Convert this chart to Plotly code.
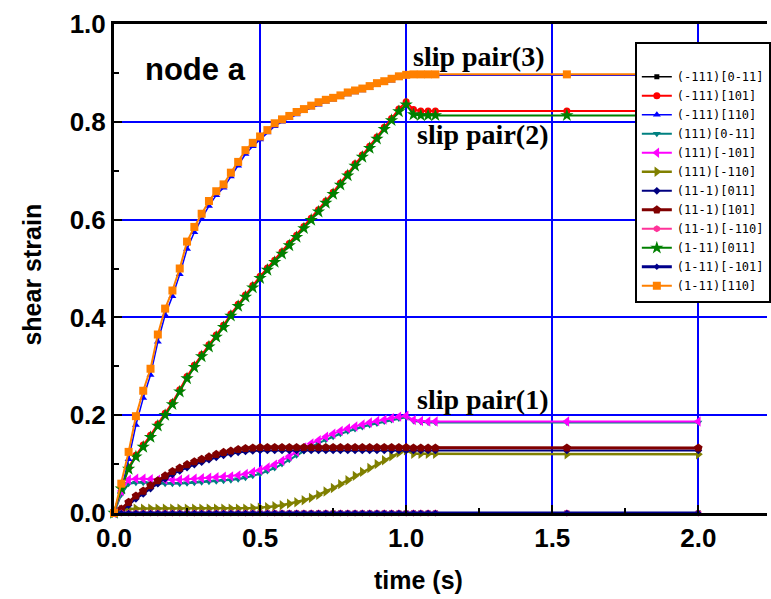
import plotly.graph_objects as go

# Sampling times (s): dense output up to 1.1 s, then two late samples
times = [0.000, 0.025, 0.050, 0.075, 0.100, 0.125, 0.150, 0.175, 0.200, 0.225,
         0.250, 0.275, 0.300, 0.325, 0.350, 0.375, 0.400, 0.425, 0.450, 0.475,
         0.500, 0.525, 0.550, 0.575, 0.600, 0.625, 0.650, 0.675, 0.700, 0.725,
         0.750, 0.775, 0.800, 0.825, 0.850, 0.875, 0.900, 0.925, 0.950, 0.975,
         1.000, 1.025, 1.050, 1.075, 1.100, 1.550, 2.000]

# Shear strain on each slip system
s_m111_0m11 = [0.000, 0.000, 0.000, 0.000, 0.000, 0.000, 0.000, 0.000, 0.000, 0.000,
               0.000, 0.000, 0.000, 0.000, 0.000, 0.000, 0.000, 0.000, 0.000, 0.000,
               0.000, 0.000, 0.000, 0.000, 0.000, 0.000, 0.000, 0.000, 0.000, 0.000,
               0.000, 0.000, 0.000, 0.000, 0.000, 0.000, 0.000, 0.000, 0.000, 0.000,
               0.000, 0.000, 0.000, 0.000, 0.000, 0.000, 0.000]
s_m111_101 = [0.000, 0.052, 0.093, 0.118, 0.139, 0.159, 0.182, 0.204, 0.226, 0.252,
              0.279, 0.302, 0.324, 0.344, 0.364, 0.384, 0.407, 0.427, 0.446, 0.465,
              0.484, 0.501, 0.517, 0.534, 0.551, 0.568, 0.586, 0.603, 0.620, 0.638,
              0.656, 0.675, 0.694, 0.714, 0.732, 0.750, 0.769, 0.789, 0.807, 0.826,
              0.841, 0.825, 0.822, 0.822, 0.822, 0.822, 0.822]
s_m111_110 = [0.000, 0.045, 0.110, 0.180, 0.235, 0.282, 0.350, 0.405, 0.443, 0.488,
              0.540, 0.574, 0.602, 0.628, 0.650, 0.665, 0.688, 0.710, 0.734, 0.750,
              0.764, 0.778, 0.791, 0.800, 0.808, 0.815, 0.822, 0.829, 0.835, 0.841,
              0.845, 0.850, 0.856, 0.860, 0.864, 0.869, 0.875, 0.879, 0.884, 0.889,
              0.893, 0.895, 0.895, 0.895, 0.895, 0.895, 0.895]
s_111_0m11 = [0.000, 0.038, 0.060, 0.062, 0.062, 0.061, 0.060, 0.060, 0.060, 0.060,
              0.061, 0.062, 0.063, 0.064, 0.065, 0.066, 0.067, 0.069, 0.072, 0.076,
              0.080, 0.086, 0.092, 0.100, 0.109, 0.118, 0.127, 0.135, 0.143, 0.150,
              0.156, 0.162, 0.167, 0.172, 0.176, 0.180, 0.183, 0.187, 0.190, 0.193,
              0.196, 0.188, 0.186, 0.185, 0.185, 0.185, 0.185]
s_111_m101 = [0.000, 0.045, 0.068, 0.070, 0.070, 0.069, 0.068, 0.068, 0.068, 0.068,
              0.069, 0.070, 0.071, 0.072, 0.073, 0.074, 0.075, 0.077, 0.080, 0.084,
              0.088, 0.093, 0.099, 0.107, 0.116, 0.125, 0.134, 0.142, 0.149, 0.156,
              0.162, 0.168, 0.173, 0.177, 0.181, 0.185, 0.188, 0.191, 0.194, 0.197,
              0.199, 0.190, 0.188, 0.187, 0.187, 0.187, 0.187]
s_111_m110 = [0.000, 0.006, 0.008, 0.009, 0.009, 0.009, 0.009, 0.009, 0.009, 0.009,
              0.009, 0.009, 0.009, 0.009, 0.009, 0.009, 0.009, 0.009, 0.009, 0.010,
              0.011, 0.012, 0.014, 0.016, 0.019, 0.022, 0.026, 0.031, 0.037, 0.044,
              0.051, 0.059, 0.067, 0.076, 0.084, 0.092, 0.100, 0.108, 0.116, 0.123,
              0.128, 0.121, 0.121, 0.121, 0.121, 0.120, 0.120]
s_11m1_011 = [0.000, 0.004, 0.016, 0.029, 0.039, 0.050, 0.060, 0.070, 0.079, 0.086,
              0.093, 0.099, 0.104, 0.109, 0.114, 0.118, 0.121, 0.124, 0.126, 0.127,
              0.128, 0.128, 0.128, 0.128, 0.128, 0.128, 0.128, 0.128, 0.128, 0.128,
              0.128, 0.128, 0.128, 0.128, 0.128, 0.128, 0.128, 0.128, 0.128, 0.128,
              0.128, 0.128, 0.128, 0.128, 0.128, 0.128, 0.128]
s_11m1_101 = [0.000, 0.008, 0.022, 0.035, 0.045, 0.056, 0.066, 0.076, 0.085, 0.092,
              0.099, 0.105, 0.110, 0.115, 0.120, 0.124, 0.127, 0.130, 0.132, 0.133,
              0.134, 0.134, 0.134, 0.134, 0.134, 0.134, 0.134, 0.134, 0.134, 0.134,
              0.134, 0.134, 0.134, 0.134, 0.134, 0.134, 0.134, 0.134, 0.134, 0.134,
              0.134, 0.133, 0.133, 0.133, 0.133, 0.133, 0.133]
s_11m1_m110 = [0.000, 0.000, 0.000, 0.000, 0.000, 0.000, 0.000, 0.000, 0.000, 0.000,
               0.000, 0.000, 0.000, 0.000, 0.000, 0.000, 0.000, 0.000, 0.000, 0.000,
               0.000, 0.000, 0.000, 0.000, 0.000, 0.000, 0.000, 0.000, 0.000, 0.000,
               0.000, 0.000, 0.000, 0.000, 0.000, 0.000, 0.000, 0.000, 0.000, 0.000,
               0.000, 0.000, 0.000, 0.000, 0.000, 0.000, 0.000]
s_1m11_011 = [0.000, 0.050, 0.090, 0.115, 0.135, 0.155, 0.178, 0.200, 0.222, 0.248,
              0.275, 0.298, 0.320, 0.340, 0.360, 0.380, 0.403, 0.423, 0.442, 0.461,
              0.480, 0.497, 0.513, 0.530, 0.547, 0.564, 0.582, 0.599, 0.616, 0.634,
              0.652, 0.671, 0.690, 0.710, 0.728, 0.746, 0.765, 0.785, 0.803, 0.821,
              0.835, 0.815, 0.813, 0.813, 0.813, 0.813, 0.813]
s_1m11_m101 = [0.000, 0.000, 0.000, 0.000, 0.000, 0.000, 0.000, 0.000, 0.000, 0.000,
               0.000, 0.000, 0.000, 0.000, 0.000, 0.000, 0.000, 0.000, 0.000, 0.000,
               0.000, 0.000, 0.000, 0.000, 0.000, 0.000, 0.000, 0.000, 0.000, 0.000,
               0.000, 0.000, 0.000, 0.000, 0.000, 0.000, 0.000, 0.000, 0.000, 0.000,
               0.000, 0.000, 0.000, 0.000, 0.000, 0.000, 0.000]
s_1m11_110 = [0.000, 0.060, 0.125, 0.198, 0.250, 0.295, 0.365, 0.418, 0.455, 0.500,
              0.555, 0.585, 0.612, 0.638, 0.658, 0.672, 0.696, 0.718, 0.742, 0.757,
              0.770, 0.783, 0.797, 0.805, 0.812, 0.820, 0.826, 0.833, 0.840, 0.845,
              0.849, 0.854, 0.860, 0.864, 0.868, 0.873, 0.879, 0.883, 0.888, 0.893,
              0.896, 0.897, 0.897, 0.897, 0.897, 0.897, 0.897]

labels = ["(-111)[0-11]", "(-111)[101]", "(-111)[110]", "(111)[0-11]",
          "(111)[-101]", "(111)[-110]", "(11-1)[011]", "(11-1)[101]",
          "(11-1)[-110]", "(1-11)[011]", "(1-11)[-101]", "(1-11)[110]"]
series = [s_m111_0m11, s_m111_101, s_m111_110, s_111_0m11, s_111_m101, s_111_m110,
          s_11m1_011, s_11m1_101, s_11m1_m110, s_1m11_011, s_1m11_m101, s_1m11_110]

colors = ["#000000", "#FF0000", "#0000FF", "#008080", "#FF00FF", "#808000",
          "#000080", "#800000", "#FF3399", "#008000", "#00008B", "#FF8000"]
symbols = ["square", "circle", "triangle-up", "triangle-down", "triangle-left",
           "triangle-right", "diamond", "pentagon", "hexagon", "star", "diamond",
           "square"]
line_widths = [1.5, 2, 1.5, 2, 2, 2.5, 2, 3, 2, 2, 3, 2]
marker_sizes = [5, 7, 7, 7, 9, 9, 6, 9, 7, 10, 5, 8]

fig = go.Figure()
for name, ys, col, sym, lw, ms in zip(labels, series, colors, symbols,
                                      line_widths, marker_sizes):
    fig.add_trace(go.Scatter(
        x=times, y=ys, name=name, mode="lines+markers",
        line=dict(color=col, width=lw),
        marker=dict(symbol=sym, size=ms, color=col, line=dict(width=0)),
        cliponaxis=False,
    ))

tick_font = dict(family="Liberation Sans", size=26, color="black", weight="bold")

fig.update_layout(
    width=771, height=599,
    margin=dict(l=114, r=0, t=24, b=86),
    paper_bgcolor="white", plot_bgcolor="white",
    showlegend=True,
    legend=dict(
        x=0.7976, y=0.963, xanchor="left", yanchor="top",
        bgcolor="white", bordercolor="black", borderwidth=2,
        font=dict(family="DejaVu Sans Mono", size=12, color="black"),
        itemwidth=30, tracegroupgap=0,
        title=dict(text=" ", font=dict(size=14)),
    ),
    xaxis=dict(
        range=[0, 2.235], tickvals=[0, 0.5, 1.0, 1.5, 2.0],
        ticktext=["0.0", "0.5", "1.0", "1.5", "2.0"],
        showgrid=True, gridcolor="#0000FF", gridwidth=2,
        showline=True, linecolor="black", linewidth=3, mirror=True,
        ticks="inside", ticklen=8, tickwidth=2, tickcolor="black",
        minor=dict(ticks="inside", dtick=0.25, ticklen=5, tickwidth=2,
                   tickcolor="black", showgrid=False),
        tickfont=tick_font, zeroline=False,
    ),
    yaxis=dict(
        range=[0, 1.0], tickvals=[0, 0.2, 0.4, 0.6, 0.8, 1.0],
        ticktext=["0.0", "0.2", "0.4", "0.6", "0.8", "1.0"],
        showgrid=True, gridcolor="#0000FF", gridwidth=2,
        showline=True, linecolor="black", linewidth=3, mirror=False,
        ticks="inside", ticklen=8, tickwidth=2, tickcolor="black",
        minor=dict(ticks="inside", dtick=0.1, ticklen=5, tickwidth=2,
                   tickcolor="black", showgrid=False),
        tickfont=tick_font, zeroline=False,
    ),
)

title_font = dict(family="Liberation Sans", size=25, color="black", weight="bold")
serif_font = dict(family="Liberation Serif", size=28, color="black", weight="bold")

fig.add_annotation(text="time (s)", xref="paper", yref="paper",
                   x=0.467, y=-0.137, xanchor="center", yanchor="middle",
                   showarrow=False, font=title_font)
fig.add_annotation(text="shear strain", xref="paper", yref="paper",
                   x=-0.126, y=0.487, xanchor="center", yanchor="middle",
                   textangle=-90, showarrow=False, font=title_font)
fig.add_annotation(text="node a", x=0.28, y=0.906, showarrow=False,
                   font=dict(family="Liberation Sans", size=31, color="black",
                             weight="bold"))
fig.add_annotation(text="slip pair(3)", x=1.017, y=0.934, xanchor="left",
                   showarrow=False, font=serif_font)
fig.add_annotation(text="slip pair(2)", x=1.03, y=0.775, xanchor="left",
                   showarrow=False, font=serif_font)
fig.add_annotation(text="slip pair(1)", x=1.03, y=0.233, xanchor="left",
                   showarrow=False, font=serif_font)

fig.write_html("out.html")
